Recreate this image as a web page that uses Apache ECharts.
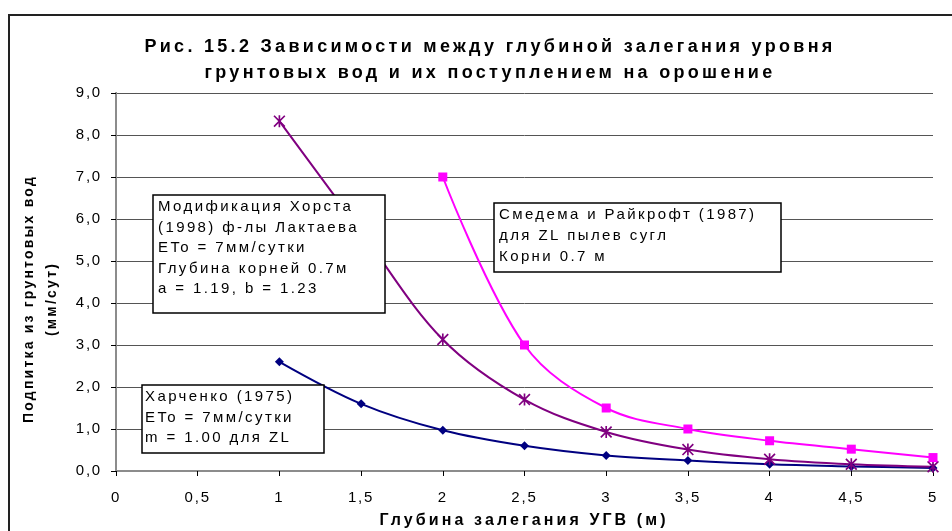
<!DOCTYPE html>
<html>
<head>
<meta charset="utf-8">
<script src="https://cdn.jsdelivr.net/npm/echarts@6/dist/echarts.min.js"></script>
<style>
html,body{margin:0;padding:0;background:#fff;}
#chart{width:952px;height:531px;}
</style>
</head>
<body>
<div id="chart"></div>
<script>
// ---- data ----
const titleText = 'Рис. 15.2 Зависимости между глубиной залегания уровня\nгрунтовых вод и их поступлением на орошение';
const xAxisTitle = 'Глубина залегания УГВ (м)';
const yAxisTitle = 'Подпитка из грунтовых вод\n(мм/сут)';

const depthKharchenko = [1, 1.5, 2, 2.5, 3, 3.5, 4, 4.5, 5];
const kharchenko      = [2.6, 1.6, 0.97, 0.6, 0.37, 0.25, 0.16, 0.11, 0.07];

const depthHorst = [1, 1.5, 2, 2.5, 3, 3.5, 4, 4.5, 5];
const horst      = [8.33, 5.7, 3.13, 1.7, 0.93, 0.51, 0.28, 0.16, 0.1];

const depthSmedema = [2, 2.5, 3, 3.5, 4, 4.5, 5];
const smedema      = [7.0, 3.0, 1.5, 1.0, 0.72, 0.52, 0.32];

const noteHorst = 'Модификация Хорста\n(1998) ф-лы Лактаева\nETo = 7мм/сутки\nГлубина корней 0.7м\na = 1.19, b = 1.23';
const noteSmedema = 'Смедема и Райкрофт (1987)\nдля ZL пылев сугл\nКорни 0.7 м';
const noteKharchenko = 'Харченко (1975)\nETo = 7мм/сутки\nm = 1.00 для ZL';

// ---- letter spacing emulation (Excel-style expanded text) ----
(function(){
  const P = CanvasRenderingContext2D.prototype;
  const orig = P.fillText;
  P.fillText = function(t, x, y, w){
    const f = this.font || '';
    const m = /(\d+(?:\.\d+)?)px/.exec(f);
    const size = m ? parseFloat(m[1]) : 12;
    const bold = /bold|[6-9]00/.test(f);
    let ls = 2.4;
    if (bold) {
      if (size >= 18) ls = 3.3;
      else if (size >= 16) ls = 3.1;
      else ls = 2.2;
    } else if (/Arial/.test(f.split(',')[0])) {
      ls = 1.8;
    }
    if ('letterSpacing' in this) this.letterSpacing = ls + 'px';
    return w === undefined ? orig.call(this, t, x, y) : orig.call(this, t, x, y, w);
  };
})();

const pairs = (xs, ys) => xs.map((x, i) => [x, ys[i]]);
const FONT = "'Liberation Sans', Arial, sans-serif";
const TICKFONT = "Arial, 'Liberation Sans', sans-serif";
const asterisk = 'path://M8.6 0L11.4 0L11.4 20L8.6 20Z M0 2L2 0L20 18L18 20Z M18 0L20 2L2 20L0 18Z';

function note(x, y, w, h, text, tx, ty, lh){
  return {
    type: 'group', z: 100,
    children: [
      {type: 'rect', shape: {x: x, y: y, width: w, height: h},
       style: {fill: '#fff', stroke: '#000', lineWidth: 1.5}, z: 100},
      {type: 'text', z: 101, style: {x: tx, y: ty, text: text, fill: '#000',
        font: "15px 'Liberation Sans', Arial, sans-serif", lineHeight: lh,
        textAlign: 'left', textVerticalAlign: 'top'}}
    ]
  };
}

const chart = echarts.init(document.getElementById('chart'));
const option = {
  animation: false,
  backgroundColor: '#fff',
  title: {
    text: titleText, left: 485, top: 29, textAlign: 'center',
    textStyle: {fontFamily: FONT, fontSize: 18, fontWeight: 'bold', color: '#000', lineHeight: 26}
  },
  grid: {left: 116, top: 93, right: 19, bottom: 60},
  xAxis: [{
    type: 'value', min: 0, max: 5, interval: 0.5,
    axisLine: {lineStyle: {color: '#000', width: 1}},
    axisTick: {show: true, length: 5, lineStyle: {color: '#000'}},
    axisLabel: {margin: 19, fontFamily: TICKFONT, fontSize: 15, color: '#000',
      formatter: v => String(v).replace('.', ',')},
    splitLine: {show: false}
  }, {
    type: 'value', min: 0, max: 5, position: 'top',
    axisLine: {show: true, lineStyle: {color: '#8c8c8c', width: 2}},
    axisTick: {show: false}, axisLabel: {show: false}, splitLine: {show: false}
  }],
  yAxis: [{
    type: 'value', min: 0, max: 9, interval: 1,
    axisLine: {show: true, lineStyle: {color: '#000', width: 1}},
    axisTick: {show: true, length: 5, lineStyle: {color: '#000'}},
    axisLabel: {margin: 14, fontFamily: TICKFONT, fontSize: 15, color: '#000',
      formatter: v => v.toFixed(1).replace('.', ',')},
    splitLine: {show: true, lineStyle: {color: '#555', width: 1}}
  }, {
    type: 'value', min: 0, max: 9, position: 'right',
    axisLine: {show: true, lineStyle: {color: '#8c8c8c', width: 2}},
    axisTick: {show: false}, axisLabel: {show: false}, splitLine: {show: false}
  }],
  series: [{
    name: 'Харченко', type: 'line', smooth: 0.35,
    data: pairs(depthKharchenko, kharchenko),
    symbol: 'diamond', symbolSize: 9,
    lineStyle: {color: '#000080', width: 2},
    itemStyle: {color: '#000080'}
  }, {
    name: 'Хорст', type: 'line', smooth: 0.35,
    data: pairs(depthHorst, horst),
    symbol: asterisk, symbolSize: 12,
    lineStyle: {color: '#800080', width: 2},
    itemStyle: {color: '#800080'}
  }, {
    name: 'Смедема', type: 'line', smooth: 0.35,
    data: pairs(depthSmedema, smedema),
    symbol: 'rect', symbolSize: 9,
    lineStyle: {color: '#ff00ff', width: 2},
    itemStyle: {color: '#ff00ff'}
  }],
  graphic: [
    {type: 'rect', z: 50, shape: {x: 9, y: 15, width: 980, height: 560},
     style: {fill: 'none', stroke: '#222', lineWidth: 2}},
    {type: 'text', z: 50, x: 41, y: 299, rotation: Math.PI / 2,
     style: {text: yAxisTitle, font: "bold 14px 'Liberation Sans', Arial, sans-serif",
       fill: '#000', lineHeight: 23, textAlign: 'center', textVerticalAlign: 'middle'}},
    {type: 'text', z: 50, x: 524, y: 521,
     style: {text: xAxisTitle, font: "bold 16px 'Liberation Sans', Arial, sans-serif",
       fill: '#000', textAlign: 'center', textVerticalAlign: 'middle'}},
    note(153, 195, 232, 118, noteHorst, 158, 197, 20.5),
    note(494, 203, 287, 69, noteSmedema, 499, 204, 21),
    note(142, 385, 182, 68, noteKharchenko, 145, 387, 20.5)
  ]
};
chart.setOption(option);
</script>
</body>
</html>
